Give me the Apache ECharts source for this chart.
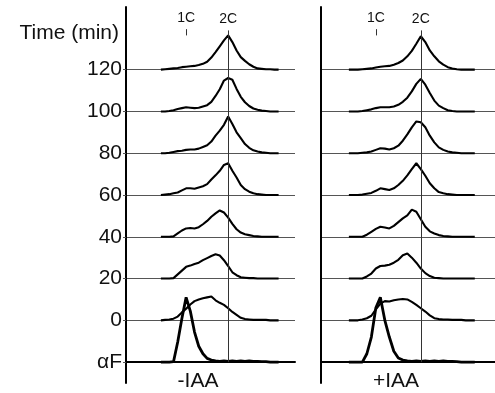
<!DOCTYPE html>
<html>
<head>
<meta charset="utf-8">
<script src="https://cdn.jsdelivr.net/npm/echarts@6/dist/echarts.min.js"></script>
<style>
  html, body { margin: 0; padding: 0; background: #fff; }
  #main { width: 495px; height: 393px; }
</style>
</head>
<body>
<div id="main"></div>
<script>
// DNA content channels (1C = 100, 2C = 200)
const channels = [40, 50, 60, 70, 80, 90, 100, 110, 120, 130, 140, 150, 160, 170, 180, 190, 200, 210, 220, 230, 240, 250, 260, 270, 280, 290, 300, 310, 320]
const rowLabels = ['\u03b1F', '0', '20', '40', '60', '80', '100', '120']

// cell counts, % of one row height, -IAA
const minusAF  = [0, 0, 0, 1, 48, 105, 155, 122, 72, 38, 20, 9, 5, 3, 2, 3, 2, 3, 2, 3, 2, 3, 2, 2, 1, 1, 0, 0, 0]
const minus0   = [0, 1, 2, 4, 9, 19, 28, 38, 46, 50, 53, 55, 57, 48, 42, 37, 29, 20, 13, 6, 3, 2, 1, 1, 1, 1, 0, 0, 0]
const minus20  = [0, 0, 0, 1, 10, 19, 28, 31, 35, 38, 44, 49, 54, 58, 55, 44, 30, 15, 8, 3, 2, 1, 1, 0, 0, 0, 0, 0, 0]
const minus40  = [0, 0, 0, 1, 8, 15, 20, 21, 20, 23, 30, 38, 48, 56, 63, 58, 46, 31, 18, 10, 6, 4, 2, 1, 0, 0, 0, 0, 0]
const minus60  = [0, 1, 2, 4, 6, 11, 16, 16, 15, 18, 21, 26, 37, 47, 58, 72, 76, 58, 42, 24, 14, 8, 4, 2, 1, 0, 0, 0, 0]
const minus80  = [0, 0, 1, 3, 5, 6, 8, 9, 9, 11, 15, 19, 28, 42, 54, 68, 88, 70, 50, 36, 22, 13, 7, 4, 2, 1, 0, 0, 0]
const minus100 = [0, 0, 1, 3, 6, 8, 10, 9, 8, 9, 12, 15, 23, 37, 53, 74, 80, 76, 54, 35, 22, 13, 7, 4, 2, 1, 0, 0, 0]
const minus120 = [0, 1, 2, 3, 4, 6, 7, 8, 9, 11, 14, 19, 29, 42, 56, 70, 82, 66, 46, 30, 21, 13, 7, 3, 2, 1, 1, 0, 0]

// +IAA
const plusAF  = [0, 0, 0, 0, 20, 60, 130, 155, 100, 60, 26, 10, 5, 3, 2, 3, 2, 3, 2, 3, 2, 3, 2, 2, 1, 0, 0, 0, 0]
const plus0   = [0, 0, 0, 2, 5, 11, 26, 40, 46, 45, 48, 50, 51, 50, 44, 37, 29, 21, 12, 5, 3, 2, 2, 1, 1, 1, 0, 0, 0]
const plus20  = [0, 0, 0, 0, 5, 12, 24, 30, 31, 33, 38, 45, 56, 60, 50, 38, 24, 13, 6, 2, 1, 0, 0, 0, 0, 0, 0, 0, 0]
const plus40  = [0, 0, 0, 0, 5, 12, 19, 24, 22, 20, 26, 35, 44, 51, 65, 60, 42, 24, 13, 8, 4, 2, 1, 0, 0, 0, 0, 0, 0]
const plus60  = [0, 0, 0, 1, 3, 5, 10, 16, 14, 12, 16, 24, 34, 47, 62, 76, 62, 46, 28, 16, 7, 4, 2, 1, 0, 0, 0, 0, 0]
const plus80  = [0, 0, 0, 1, 2, 4, 8, 12, 11, 9, 12, 18, 30, 45, 62, 76, 74, 62, 42, 26, 14, 8, 4, 2, 1, 0, 0, 0, 0]
const plus100 = [0, 0, 0, 1, 3, 5, 8, 10, 10, 10, 12, 16, 23, 33, 48, 66, 78, 64, 44, 26, 14, 8, 3, 1, 0, 0, 0, 0, 0]
const plus120 = [0, 0, 0, 1, 2, 3, 5, 7, 8, 9, 12, 16, 22, 32, 45, 62, 80, 66, 46, 32, 20, 12, 6, 3, 1, 0, 0, 0, 0]

const minusRows = [minusAF, minus0, minus20, minus40, minus60, minus80, minus100, minus120]
const plusRows = [plusAF, plus0, plus20, plus40, plus60, plus80, plus100, plus120]

// channel range shown in each panel
const xRange = [[-43, 359], [-22, 365]]

const FONT = 'Liberation Sans'

const chart = echarts.init(document.getElementById('main'), null, {renderer: 'canvas'})

// stacked histograms for one panel
const panelSeries = (rows, idx) => rows.map((vals, row) => {
  const base = row === 0
  const s = {
    type: 'line',
    xAxisIndex: idx,
    yAxisIndex: idx,
    data: channels.map((c, i) => [c, row + vals[i] / 100]),
    showSymbol: false,
    symbol: 'none',
    animation: false,
    lineStyle: {color: '#000', width: base ? 2.8 : 2.1},
    z: 3
  }
  if (base) {
    // 2C guide line and 1C tick
    s.markLine = {
      silent: true,
      symbol: 'none',
      animation: false,
      label: {show: true, position: 'end', color: '#111', fontSize: 14, fontFamily: FONT, distance: 4},
      lineStyle: {color: '#333', width: 1, type: 'solid'},
      data: [
        [{coord: [200, 0]}, {coord: [200, 7.94], label: {formatter: '2C'}}],
        [{coord: [100, 7.82]}, {coord: [100, 7.97], label: {formatter: '1C'}}]
      ]
    }
  }
  return s
})

const yAxisBase = (idx, showLabels) => ({
  type: 'value',
  gridIndex: idx,
  min: -0.5,
  max: 8.5,
  axisLine: {show: true, onZero: false, lineStyle: {color: '#000', width: 2}},
  axisTick: {show: showLabels, customValues: [0, 1, 2, 3, 4, 5, 6, 7], length: 3, lineStyle: {color: '#555'}},
  splitLine: {show: false},
  axisLabel: {
    show: showLabels,
    customValues: [0, 1, 2, 3, 4, 5, 6, 7],
    formatter: v => rowLabels[Math.round(v)],
    color: '#111',
    fontSize: 21,
    fontFamily: FONT,
    margin: 4
  },
  z: 4
})

// second grid per panel, only for the row baselines (row 0..7)
const rowAxisY = idx => ({
  type: 'value',
  gridIndex: idx,
  min: 0,
  max: 7,
  interval: 1,
  axisLine: {show: false},
  axisTick: {show: false},
  axisLabel: {show: false},
  splitLine: {show: true, lineStyle: {color: '#555', width: 1}}
})
const rowAxisX = idx => ({
  type: 'value',
  gridIndex: idx,
  min: 0,
  max: 1,
  axisLine: {show: true, lineStyle: {color: '#000', width: 2}},
  axisTick: {show: false},
  axisLabel: {show: false},
  splitLine: {show: false}
})

const textStyle = (text, x, y, align) => ({
  type: 'text',
  x: x,
  y: y,
  silent: true,
  style: {text: text, fill: '#111', font: '21px "' + FONT + '"', align: align, verticalAlign: 'middle'}
})

const rowTop = 7 + 376 * 1.5 / 9
const rowHeight = 376 * 7 / 9

const option = {
  backgroundColor: '#fff',
  grid: [
    {left: 126, top: 7, width: 169, height: 376, outerBoundsMode: 'none', containLabel: false},
    {left: 321, top: 7, width: 174, height: 376, outerBoundsMode: 'none', containLabel: false},
    {left: 126, top: rowTop, width: 169, height: rowHeight, outerBoundsMode: 'none', containLabel: false},
    {left: 321, top: rowTop, width: 174, height: rowHeight, outerBoundsMode: 'none', containLabel: false}
  ],
  xAxis: [
    {type: 'value', gridIndex: 0, min: xRange[0][0], max: xRange[0][1], show: false},
    {type: 'value', gridIndex: 1, min: xRange[1][0], max: xRange[1][1], show: false},
    rowAxisX(2),
    rowAxisX(3)
  ],
  yAxis: [yAxisBase(0, true), yAxisBase(1, false), rowAxisY(2), rowAxisY(3)],
  graphic: [
    textStyle('Time (min)', 119, 33, 'right'),
    textStyle('-IAA', 198, 381, 'center'),
    textStyle('+IAA', 396, 381, 'center')
  ],
  series: [...panelSeries(minusRows, 0), ...panelSeries(plusRows, 1)]
}

chart.setOption(option)
</script>
</body>
</html>
